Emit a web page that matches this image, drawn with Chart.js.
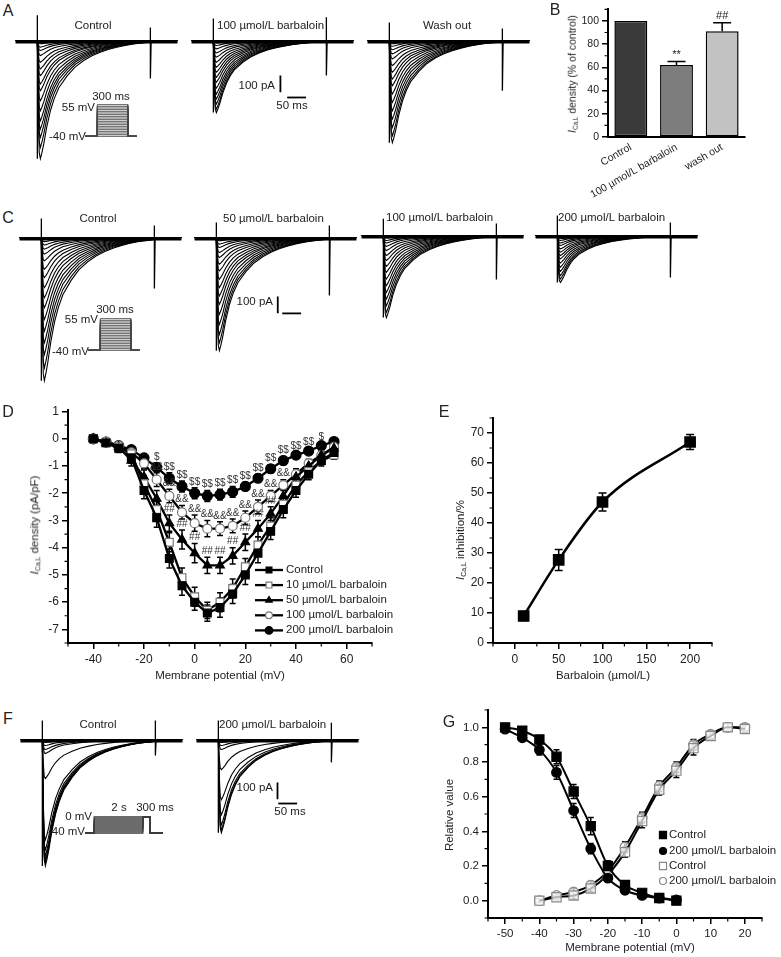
<!DOCTYPE html>
<html>
<head>
<meta charset="utf-8">
<title>Barbaloin and L-type calcium current</title>
<script src="https://cdn.jsdelivr.net/npm/chart.js@4.4.1/dist/chart.umd.min.js"></script>
<style>
  body { margin: 0; background: #fff; }
  #fig { position: relative; width: 781px; height: 957px; overflow: hidden; font-family: "Liberation Sans", Arial, sans-serif; color: #222; }
  #fig canvas { position: absolute; }
  .t { position: absolute; white-space: nowrap; font-size: 11.5px; line-height: 1; transform: translate(-50%, -50%); }
  .r { transform: translate(-100%, -50%); }
  .l { transform: translate(0, -50%); }
  .letter { font-size: 16px; }
  .yt { transform: translate(-50%, -50%) rotate(-90deg); }
  .small { font-size: 10.5px; }
  sub { font-size: 0.6em; vertical-align: -0.3em; line-height: 0; }
</style>
</head>
<body>
<div id="fig"></div>
<script>
// ---------- data ----------

// normalised current waveform (fraction of peak)
var traceTimes = [0, 2, 5, 8, 12, 17, 25, 35, 45, 57, 79, 100, 123, 145, 167, 190, 211, 233, 255, 278, 300];
var traceShape = [0, 0.55, 0.95, 1, 0.95, 0.875, 0.73, 0.59, 0.49, 0.4, 0.3, 0.225, 0.17, 0.13, 0.1, 0.075, 0.057, 0.042, 0.03, 0.022, 0.015];

// peak current of each sweep (pA)
var peaksAControl = [10, 20, 40, 60, 90, 130, 170, 210, 260, 300, 360, 420, 480, 530, 580, 640, 707];
var peaksA100 = [8, 15, 30, 50, 75, 100, 130, 160, 190, 220, 250, 285, 320, 350, 380, 410, 431];
var peaksAWash = [10, 20, 35, 55, 80, 110, 150, 190, 230, 270, 320, 370, 420, 470, 520, 570, 611];
var peaksCControl = [10, 25, 45, 70, 100, 140, 190, 240, 300, 360, 420, 490, 560, 630, 700, 780, 856];
var peaksC50 = [10, 20, 40, 60, 90, 120, 160, 200, 250, 300, 350, 400, 460, 520, 580, 630, 677];
var peaksC100 = [8, 15, 30, 45, 65, 90, 120, 150, 185, 220, 260, 300, 340, 380, 420, 460, 491];
var peaksC200 = [5, 10, 20, 30, 45, 60, 80, 100, 120, 140, 165, 190, 215, 240, 260, 281];
var peaksFControl = [18, 36, 60, 84, 234, 600, 660, 696, 720, 738, 756];
var peaksF200 = [18, 36, 60, 180, 360, 450, 510, 540, 557];

// capacitive artefacts (pA): up at pulse start, up and down at pulse end
var artA1 = [150, 78, 227], artA2 = [131, 138, 209], artA3 = [108, 72, 300];
var artC1 = [113, 72, 305], artC2 = [90, 72, 347], artC3 = [100, 72, 263], artC4 = [120, 78, 251];
var artF1 = [113, 113, 96], artF2 = [113, 100, 137];

var scaleBarPA = 100;
var scaleBarMs = 50;

// voltage protocols
var stepLevels = [-40, -35, -30, -25, -20, -15, -10, -5, 0, 5, 10, 15, 20, 25, 30, 35, 40, 45, 50, 55];
var stepTimes = [-116, 0, 300, 387];
var prepulseLevels = [-40, -35, -30, -25, -20, -15, -10, -5, 0];
var prepulseTimes = [-367, 0, 2000, 2300, 2816];

// panel B
var bCats = ['Control', '100 \u00b5mol/L barbaloin', 'wash out'];
var bVals = [100, 62, 91];
var bErrs = [0, 3, 7.5];
var bMarks = ['', '**', '##'];
var bYTicks = [0, 20, 40, 60, 80, 100];
var bYMinor = [10, 30, 50, 70, 90, 110];

// panel D (I-V curves)
var ivVoltage = [-40, -35, -30, -25, -20, -15, -10, -5, 0, 5, 10, 15, 20, 25, 30, 35, 40, 45, 50, 55];
var ivControl = [0, -0.15, -0.35, -0.7, -1.9, -2.9, -4.4, -5.4, -6.0, -6.4, -6.2, -5.7, -5.0, -4.2, -3.4, -2.6, -1.9, -1.3, -0.8, -0.5];
var iv10 = [0, -0.15, -0.3, -0.55, -1.65, -2.6, -3.8, -5.1, -5.8, -6.3, -6.0, -5.5, -4.7, -3.9, -3.2, -2.4, -1.7, -1.2, -0.8, -0.6];
var iv50 = [0, -0.15, -0.3, -0.8, -1.4, -2.2, -3.1, -3.7, -4.2, -4.65, -4.65, -4.3, -3.8, -3.3, -2.75, -2.1, -1.4, -1.0, -0.6, -0.35];
var iv100 = [0, -0.1, -0.25, -0.5, -0.9, -1.5, -2.1, -2.7, -3.1, -3.3, -3.3, -3.2, -2.9, -2.5, -2.1, -1.7, -1.3, -0.9, -0.6, -0.3];
var iv200 = [0, -0.12, -0.25, -0.4, -0.7, -1.05, -1.45, -1.75, -2.0, -2.1, -2.05, -1.95, -1.75, -1.45, -1.1, -0.8, -0.6, -0.45, -0.25, -0.1];
var errControl = [0.05, 0.1, 0.15, 0.2, 0.3, 0.35, 0.35, 0.35, 0.3, 0.3, 0.35, 0.35, 0.35, 0.35, 0.3, 0.3, 0.25, 0.2, 0.2, 0.15];
var err10 = [0.05, 0.1, 0.15, 0.2, 0.3, 0.3, 0.35, 0.35, 0.35, 0.3, 0.35, 0.35, 0.3, 0.3, 0.3, 0.25, 0.25, 0.2, 0.15, 0.15];
var err50 = [0.05, 0.1, 0.15, 0.2, 0.25, 0.3, 0.3, 0.35, 0.35, 0.3, 0.3, 0.3, 0.3, 0.3, 0.25, 0.25, 0.2, 0.2, 0.15, 0.15];
var err100 = [0.05, 0.1, 0.1, 0.15, 0.2, 0.25, 0.25, 0.25, 0.3, 0.3, 0.25, 0.25, 0.25, 0.25, 0.2, 0.2, 0.2, 0.15, 0.15, 0.1];
var err200 = [0.05, 0.1, 0.1, 0.1, 0.15, 0.15, 0.2, 0.2, 0.2, 0.2, 0.2, 0.2, 0.15, 0.15, 0.15, 0.15, 0.1, 0.1, 0.1, 0.1];
var marks50 = ['', '', '', '', '', '', '##', '##', '##', '##', '##', '##', '##', '##', '##', '', '', '', '', ''];
var marks100 = ['', '', '', '', '', '&&', '&&', '&&', '&&', '&&', '&&', '&&', '&&', '&&', '&&', '&&', '', '', '', ''];
var marks200 = ['', '', '', '', '', '$', '$$', '$$', '$$', '$$', '$$', '$$', '$$', '$$', '$$', '$$', '$$', '$$', '$', ''];
var dLabels = ['Control', '10 \u00b5mol/L barbaloin', '50 \u00b5mol/L barbaloin', '100 \u00b5mol/L barbaloin', '200 \u00b5mol/L barbaloin'];
var dXTicks = [-40, -20, 0, 20, 40, 60];
var dXMinor = [-50, -30, -10, 10, 30, 50, 70];
var dYTicks = [1, 0, -1, -2, -3, -4, -5, -6, -7];
var dYMinor = [0.5, -0.5, -1.5, -2.5, -3.5, -4.5, -5.5, -6.5, -7.5];

// panel E (concentration-inhibition)
var eConc = [10, 50, 100, 200];
var eInhib = [9, 27.7, 47, 67];
var eErr = [1.5, 3.5, 3, 2.5];
var eXTicks = [0, 50, 100, 150, 200];
var eXMinor = [-25, 25, 75, 125, 175, 225];
var eYTicks = [0, 10, 20, 30, 40, 50, 60, 70];
var eYMinor = [5, 15, 25, 35, 45, 55, 65, 75];

// panel G (inactivation / activation)
var gInactV = [-50, -45, -40, -35, -30, -25, -20, -15, -10, -5, 0];
var gInactControl = [1.0, 0.98, 0.93, 0.83, 0.63, 0.43, 0.2, 0.09, 0.045, 0.015, 0.0];
var gInactBarb = [0.99, 0.94, 0.87, 0.74, 0.52, 0.3, 0.13, 0.06, 0.03, 0.015, 0.005];
var gInactControlErr = [0.01, 0.02, 0.02, 0.04, 0.04, 0.05, 0.03, 0.02, 0.02, 0.01, 0.01];
var gInactBarbErr = [0.01, 0.02, 0.03, 0.04, 0.04, 0.03, 0.02, 0.02, 0.01, 0.01, 0.01];
var gActV = [-40, -35, -30, -25, -20, -15, -10, -5, 0, 5, 10, 15, 20];
var gActControl = [0.0, 0.02, 0.03, 0.07, 0.15, 0.28, 0.46, 0.64, 0.75, 0.88, 0.95, 1.0, 0.99];
var gActBarb = [0.0, 0.03, 0.05, 0.09, 0.17, 0.31, 0.48, 0.66, 0.77, 0.9, 0.96, 1.0, 1.0];
var gActControlErr = [0.01, 0.01, 0.02, 0.02, 0.02, 0.03, 0.04, 0.03, 0.04, 0.04, 0.02, 0.02, 0.02];
var gActBarbErr = [0.01, 0.01, 0.02, 0.02, 0.02, 0.03, 0.03, 0.03, 0.03, 0.03, 0.02, 0.02, 0.02];
var gLabels = ['Control', '200 \u00b5mol/L barbaloin', 'Control', '200 \u00b5mol/L barbaloin'];
var gXTicks = [-50, -40, -30, -20, -10, 0, 10, 20];
var gXMinor = [-55, -45, -35, -25, -15, -5, 5, 15, 25];
var gYTicks = [0, 0.2, 0.4, 0.6, 0.8, 1.0];
var gYMinor = [-0.1, 0.1, 0.3, 0.5, 0.7, 0.9, 1.1];

// ---------- helpers ----------
var fig = document.getElementById('fig');
Chart.defaults.font.family = '"Liberation Sans", Arial, sans-serif';
Chart.defaults.color = '#222';
Chart.defaults.animation = false;
Chart.defaults.responsive = false;
Chart.defaults.events = [];
Chart.defaults.plugins.legend.display = false;
Chart.defaults.plugins.tooltip.enabled = false;

function addCanvas(left, top, w, h) {
  var c = document.createElement('canvas');
  c.width = w;
  c.height = h;
  c.style.left = left + 'px';
  c.style.top = top + 'px';
  fig.appendChild(c);
  return c.getContext('2d');
}

function addText(html, x, y, cls) {
  var d = document.createElement('div');
  d.className = 't' + (cls ? ' ' + cls : '');
  d.innerHTML = html;
  d.style.left = x + 'px';
  d.style.top = y + 'px';
  fig.appendChild(d);
}

function line(pts, w, color) {
  return { data: pts, borderColor: color || '#000', borderWidth: w, pointRadius: 0, tension: 0, fill: false };
}

function drawMarker(c, style, x, y, r, fill, stroke) {
  c.save();
  c.fillStyle = fill;
  c.strokeStyle = stroke;
  c.lineWidth = 1.2;
  c.beginPath();
  if (style === 'rect') {
    var s = r * Math.SQRT1_2;
    c.rect(x - s, y - s, 2 * s, 2 * s);
  } else if (style === 'triangle') {
    c.moveTo(x, y - r);
    c.lineTo(x + r * 0.866, y + r / 2);
    c.lineTo(x - r * 0.866, y + r / 2);
    c.closePath();
  } else {
    c.arc(x, y, r, 0, Math.PI * 2);
  }
  c.fill();
  c.stroke();
  c.restore();
}

function axis(o) {
  var a = {
    type: o.type || 'linear',
    offset: !!o.offset,
    border: { display: true, color: '#000', width: 2 },
    grid: { display: true, drawOnChartArea: false, drawTicks: !o.noTicks, tickLength: 6, color: '#000', lineWidth: 1.5 },
    ticks: { color: '#222', font: { size: o.font || 12 }, padding: o.pad || 3, autoSkip: false, maxRotation: o.rot || 0, minRotation: o.rot || 0 },
    afterFit: function (s) {
      if (o.w != null) s.width = o.w;
      if (o.h != null) s.height = o.h;
    }
  };
  if (o.min != null) a.min = o.min;
  if (o.max != null) a.max = o.max;
  if (o.fmt) a.ticks.callback = o.fmt;
  if (o.ticks) a.afterBuildTicks = function (s) {
    s.ticks = o.ticks.map(function (v) { return { value: v }; });
  };
  return a;
}

function minorTicks(xs, ys) {
  return {
    id: 'minorTicks',
    afterDraw: function (chart) {
      var c = chart.ctx, a = chart.chartArea;
      c.save();
      c.strokeStyle = '#000';
      c.lineWidth = 1.2;
      c.beginPath();
      (xs || []).forEach(function (v) {
        var p = chart.scales.x.getPixelForValue(v);
        c.moveTo(p, a.bottom);
        c.lineTo(p, a.bottom + 3.5);
      });
      (ys || []).forEach(function (v) {
        var p = chart.scales.y.getPixelForValue(v);
        c.moveTo(a.left, p);
        c.lineTo(a.left - 3.5, p);
      });
      c.stroke();
      c.restore();
    }
  };
}

// vertical error bars for datasets that carry an "errs" array
var errorBars = {
  id: 'errorBars',
  beforeDatasetsDraw: function (chart) {
    var c = chart.ctx, xs = chart.scales.x, ys = chart.scales.y;
    c.save();
    chart.data.datasets.forEach(function (ds) {
      if (!ds.errs) return;
      c.strokeStyle = ds.errColor || '#000';
      c.lineWidth = 1.5;
      var cap = ds.capWidth || 3;
      ds.data.forEach(function (p, i) {
        var e = ds.errs[i];
        if (!e) return;
        var px = xs.getPixelForValue(p.x);
        var y1 = ys.getPixelForValue(p.y - e), y2 = ys.getPixelForValue(p.y + e);
        c.beginPath();
        c.moveTo(px, y1); c.lineTo(px, y2);
        c.moveTo(px - cap, y1); c.lineTo(px + cap, y1);
        c.moveTo(px - cap, y2); c.lineTo(px + cap, y2);
        c.stroke();
      });
    });
    c.restore();
  }
};

// significance marks above points
var sigMarks = {
  id: 'sigMarks',
  afterDatasetsDraw: function (chart) {
    var c = chart.ctx, xs = chart.scales.x, ys = chart.scales.y;
    c.save();
    c.fillStyle = '#333';
    c.font = '10px "Liberation Sans", Arial, sans-serif';
    c.textAlign = 'center';
    c.textBaseline = 'bottom';
    chart.data.datasets.forEach(function (ds) {
      if (!ds.marks) return;
      ds.data.forEach(function (p, i) {
        if (!ds.marks[i]) return;
        var top = p.y + (ds.errs ? ds.errs[i] : 0);
        c.fillText(ds.marks[i], xs.getPixelForValue(p.x), ys.getPixelForValue(top) - 1);
      });
    });
    c.restore();
  }
};

// ---------- current traces ----------
var trX = [-62, 376], trY = [-900, 200], trW = 165, trH = 184;

function traceChart(startX, baseY, peaks, art, bar) {
  var left = startX + trX[0] * trW / (trX[1] - trX[0]);
  var top = baseY - trY[1] * trH / (trY[1] - trY[0]);
  var ctx = addCanvas(left, top, trW, trH);
  var sets = [line([{ x: -58, y: -7 }, { x: 372, y: -7 }], 3.5)];
  peaks.forEach(function (p) {
    var pts = [{ x: -58, y: 0 }];
    traceTimes.forEach(function (t, i) { pts.push({ x: t, y: -p * traceShape[i] }); });
    pts.push({ x: 302, y: 0 }, { x: 372, y: 0 });
    sets.push(line(pts, 1.1));
  });
  sets.push(line([{ x: 0, y: art[0] }, { x: 0, y: -peaks[peaks.length - 1] }], 1.3));
  sets.push(line([{ x: 300, y: art[1] }, { x: 300, y: -art[2] }, { x: 302, y: 0 }], 1.3));
  if (bar) {
    sets.push(line([{ x: bar[0], y: bar[1] }, { x: bar[0], y: bar[1] - scaleBarPA }], 1.8));
    sets.push(line([{ x: bar[2], y: bar[3] }, { x: bar[2] + scaleBarMs, y: bar[3] }], 1.8));
  }
  new Chart(ctx, {
    type: 'line',
    data: { datasets: sets },
    options: {
      layout: { padding: 0 },
      scales: {
        x: { type: 'linear', display: false, min: trX[0], max: trX[1] },
        y: { display: false, min: trY[0], max: trY[1] }
      }
    }
  });
}

function protocolChart(x0, yHold, msPx, mvPx, tMin, tMax, vMin, vMax, sweeps, w, color) {
  var ctx = addCanvas(x0 + tMin * msPx, yHold - (vMax + 40) * mvPx, (tMax - tMin) * msPx, (vMax - vMin) * mvPx);
  new Chart(ctx, {
    type: 'line',
    data: { datasets: sweeps.map(function (pts) { return line(pts, w, color); }) },
    options: {
      layout: { padding: 0 },
      scales: {
        x: { type: 'linear', display: false, min: tMin, max: tMax },
        y: { display: false, min: vMin, max: vMax }
      }
    }
  });
}

function stepSweeps() {
  return stepLevels.map(function (v) {
    return [{ x: stepTimes[0], y: -40 }, { x: stepTimes[1], y: -40 }, { x: stepTimes[1], y: v },
      { x: stepTimes[2], y: v }, { x: stepTimes[2], y: -40 }, { x: stepTimes[3], y: -40 }];
  });
}

function prepulseSweeps() {
  var t = prepulseTimes;
  return prepulseLevels.map(function (v) {
    return [{ x: t[0], y: -40 }, { x: t[1], y: -40 }, { x: t[1], y: v }, { x: t[2], y: v },
      { x: t[2], y: 0 }, { x: t[3], y: 0 }, { x: t[3], y: -40 }, { x: t[4], y: -40 }];
  });
}

// A
traceChart(37, 40, peaksAControl, artA1);
traceChart(213, 40, peaksA100, artA2, [178, -209, 196, -341]);
traceChart(389, 40, peaksAWash, artA3);
protocolChart(97, 137, 31 / 300, 32 / 95, -120, 390, -45, 60, stepSweeps(), 0.9, '#4a4a4a');

// C
traceChart(41, 237, peaksCControl, artC1);
traceChart(216, 237, peaksC50, artC2, [163, -353, 175, -454]);
traceChart(383, 235, peaksC100, artC3);
traceChart(557, 235, peaksC200, artC4);
protocolChart(100, 351, 31 / 300, 32 / 95, -120, 390, -45, 60, stepSweeps(), 0.9, '#4a4a4a');

// F
traceChart(42, 739, peaksFControl, artF1);
traceChart(218, 739, peaksF200, artF2, [157, -257, 159, -383]);
protocolChart(94, 833, 0.0245, 0.4, -380, 2830, -45, 5, prepulseSweeps(), 1.3, '#3c3c3c');

// ---------- B: bar chart ----------
var barExtras = {
  id: 'barExtras',
  afterDatasetsDraw: function (chart) {
    var c = chart.ctx, ys = chart.scales.y, bars = chart.getDatasetMeta(0).data;
    c.save();
    c.strokeStyle = '#000';
    c.lineWidth = 1.5;
    c.fillStyle = '#222';
    c.font = '11px "Liberation Sans", Arial, sans-serif';
    c.textAlign = 'center';
    c.textBaseline = 'bottom';
    bars.forEach(function (b, i) {
      var topV = bVals[i] + bErrs[i];
      if (bErrs[i]) {
        var y0 = ys.getPixelForValue(bVals[i]), y1 = ys.getPixelForValue(topV);
        c.beginPath();
        c.moveTo(b.x, y0); c.lineTo(b.x, y1);
        c.moveTo(b.x - 9, y1); c.lineTo(b.x + 9, y1);
        c.stroke();
      }
      if (bMarks[i]) c.fillText(bMarks[i], b.x, ys.getPixelForValue(topV) - 1);
    });
    c.restore();
  }
};

new Chart(addCanvas(515, 0, 266, 210), {
  type: 'bar',
  data: {
    labels: bCats,
    datasets: [{
      data: bVals,
      backgroundColor: ['#3a3a3a', '#7d7d7d', '#c2c2c2'],
      borderColor: '#000',
      borderWidth: 1.5,
      borderSkipped: false,
      barPercentage: 0.72,
      categoryPercentage: 1
    }]
  },
  options: {
    layout: { padding: { top: 5, right: 36, left: 0, bottom: 0 } },
    scales: {
      x: axis({ type: 'category', offset: true, rot: 30, font: 10.5, h: 73, noTicks: true, pad: 4 }),
      y: axis({ min: 0, max: 110, ticks: bYTicks, w: 93, font: 10.5 })
    }
  },
  plugins: [barExtras, minorTicks(null, bYMinor)]
});

// ---------- D: I-V curves ----------
function ivSet(vals, errs, style, fill, border, radius, marks) {
  return {
    data: ivVoltage.map(function (v, i) { return { x: v, y: vals[i] }; }),
    errs: errs, marks: marks,
    showLine: true, tension: 0,
    borderColor: '#000', borderWidth: 2.3,
    pointStyle: style, pointRadius: radius,
    pointBackgroundColor: fill, pointBorderColor: border, pointBorderWidth: 1.2
  };
}

var dLegend = {
  id: 'dLegend',
  afterDraw: function (chart) {
    var c = chart.ctx;
    chart.data.datasets.forEach(function (ds, i) {
      var y = 170 + i * 15.1;
      c.save();
      c.strokeStyle = '#000';
      c.lineWidth = 2.3;
      c.beginPath();
      c.moveTo(255, y);
      c.lineTo(283, y);
      c.stroke();
      c.restore();
      drawMarker(c, ds.pointStyle, 269, y, ds.pointRadius * 0.75, ds.pointBackgroundColor, ds.pointBorderColor);
    });
  }
};

new Chart(addCanvas(0, 400, 440, 290), {
  type: 'scatter',
  data: {
    datasets: [
      ivSet(ivControl, errControl, 'rect', '#000', '#000', 5.5),
      ivSet(iv10, err10, 'rect', '#fff', '#777', 5.5),
      ivSet(iv50, err50, 'triangle', '#000', '#000', 5, marks50),
      ivSet(iv100, err100, 'circle', '#fff', '#777', 4.5, marks100),
      ivSet(iv200, err200, 'circle', '#000', '#000', 5, marks200)
    ]
  },
  options: {
    layout: { padding: { top: 10, right: 68, left: 0, bottom: 0 } },
    scales: {
      x: axis({ min: -50, max: 70, ticks: dXTicks, h: 47 }),
      y: axis({ min: -7.5, max: 1.05, ticks: dYTicks, w: 68 })
    }
  },
  plugins: [errorBars, sigMarks, minorTicks(dXMinor, dYMinor), dLegend]
});

// ---------- E: inhibition ----------
new Chart(addCanvas(440, 400, 341, 290), {
  type: 'scatter',
  data: {
    datasets: [{
      data: eConc.map(function (c, i) { return { x: c, y: eInhib[i] }; }),
      errs: eErr, capWidth: 4,
      showLine: true, cubicInterpolationMode: 'monotone',
      borderColor: '#000', borderWidth: 2.5,
      pointStyle: 'rect', pointRadius: 6.5,
      pointBackgroundColor: '#000', pointBorderColor: '#000'
    }]
  },
  options: {
    layout: { padding: { top: 18, right: 69, left: 0, bottom: 0 } },
    scales: {
      x: axis({ min: -25, max: 225, ticks: eXTicks, h: 47 }),
      y: axis({ min: 0, max: 75, ticks: eYTicks, w: 53 })
    }
  },
  plugins: [errorBars, minorTicks(eXMinor, eYMinor)]
});

// ---------- G: activation / inactivation ----------
function gSet(vs, vals, errs, style, fill, border, radius) {
  return {
    data: vs.map(function (v, i) { return { x: v, y: vals[i] }; }),
    errs: errs,
    showLine: true, cubicInterpolationMode: 'monotone',
    borderColor: '#000', borderWidth: 2,
    pointStyle: style, pointRadius: radius,
    pointBackgroundColor: fill, pointBorderColor: border, pointBorderWidth: 1.2
  };
}

var gLegend = {
  id: 'gLegend',
  afterDraw: function (chart) {
    var c = chart.ctx, ys = [135, 151, 166, 181];
    chart.data.datasets.forEach(function (ds, i) {
      drawMarker(c, ds.pointStyle, 263, ys[i], ds.pointStyle === 'rect' ? 5 : 3.5, ds.pointBackgroundColor, ds.pointBorderColor);
    });
  }
};

new Chart(addCanvas(400, 700, 381, 257), {
  type: 'scatter',
  data: {
    datasets: [
      gSet(gInactV, gInactControl, gInactControlErr, 'rect', '#000', '#000', 6.5),
      gSet(gInactV, gInactBarb, gInactBarbErr, 'circle', '#000', '#000', 4.8),
      gSet(gActV, gActControl, gActControlErr, 'rect', 'rgba(255,255,255,0.7)', '#888', 6.5),
      gSet(gActV, gActBarb, gActBarbErr, 'circle', 'rgba(255,255,255,0.7)', '#888', 4.8)
    ]
  },
  options: {
    layout: { padding: { top: 10, right: 19, left: 0, bottom: 0 } },
    scales: {
      x: axis({ min: -55, max: 25, ticks: gXTicks, h: 39, font: 11.5 }),
      y: axis({ min: -0.1, max: 1.1, ticks: gYTicks, w: 88, font: 11.5, fmt: function (v) { return v.toFixed(1); } })
    }
  },
  plugins: [errorBars, minorTicks(gXMinor, gYMinor), gLegend]
});

// ---------- text ----------
var ica = '<i>I</i><sub>Ca,L</sub>';
addText('A', 8, 11, 'letter');
addText('B', 555, 10, 'letter');
addText('C', 8, 218, 'letter');
addText('D', 8, 412, 'letter');
addText('E', 444, 412, 'letter');
addText('F', 8, 719, 'letter');
addText('G', 449, 722, 'letter');

addText('Control', 93, 26);
addText('100 \u00b5mol/L barbaloin', 217, 26, 'l');
addText('Wash out', 447, 26);
addText('100 pA', 275, 86, 'r');
addText('50 ms', 292, 106);
addText('300 ms', 111, 97);
addText('55 mV', 95, 108, 'r');
addText('-40 mV', 86, 137, 'r');

addText('Control', 98, 219);
addText('50 \u00b5mol/L barbaloin', 223, 219, 'l');
addText('100 \u00b5mol/L barbaloin', 386, 218, 'l');
addText('200 \u00b5mol/L barbaloin', 558, 218, 'l');
addText('100 pA', 273, 302, 'r');
addText('300 ms', 115, 310);
addText('55 mV', 98, 320, 'r');
addText('-40 mV', 89, 352, 'r');

addText('Control', 98, 725);
addText('200 \u00b5mol/L barbaloin', 219, 725, 'l');
addText('100 pA', 273, 788, 'r');
addText('50 ms', 290, 812);
addText('0 mV', 92, 817, 'r');
addText('-40 mV', 85, 832, 'r');
addText('2 s', 119, 808);
addText('300 ms', 155, 808);

addText(ica + ' density (% of control)', 572, 74, 'yt small');
addText(ica + ' density (pA/pF)', 35, 525, 'yt');
addText(ica + ' inhibition/%', 461, 540, 'yt');
addText('Relative value', 450, 815, 'yt');
addText('Membrane potential (mV)', 220, 676);
addText('Barbaloin (\u00b5mol/L)', 603, 676);
addText('Membrane potential (mV)', 630, 948);

dLabels.forEach(function (s, i) { addText(s, 286, 570 + i * 15.1, 'l'); });
[835, 851, 866, 881].forEach(function (y, i) { addText(gLabels[i], 669, y, 'l'); });
</script>
</body>
</html>
